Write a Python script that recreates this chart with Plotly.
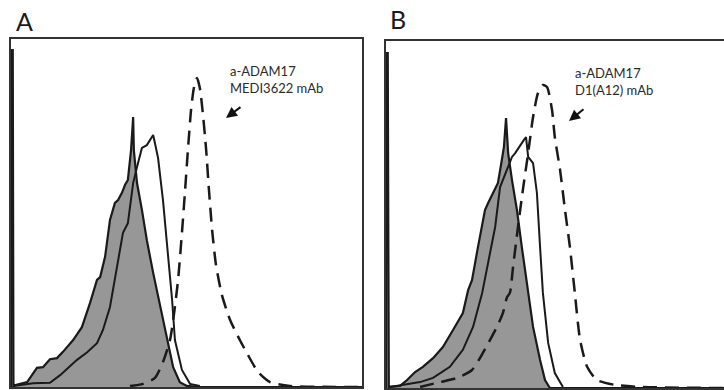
import plotly.graph_objects as go

# ---------------- Panel A data (channel, relative count) ----------------
a_fill_x = [0, 1, 5, 7, 46, 74, 91, 111, 131, 148, 177, 202, 225, 245, 254, 268, 282, 296, 305,
            316, 325, 333, 342, 348, 350, 359, 373, 387, 405, 425, 444, 462, 481, 501, 538, 1000]
a_fill_y = [0, 96.8, 96.8, 0.4, 1.4, 5.5, 5.7, 8.0, 8.3, 10.1, 13.5, 17.2, 24.1, 30.8, 31.6, 37.4,
            48.0, 52.9, 53.7, 55.8, 58.1, 59.5, 68.1, 77.6, 68.1, 58.6, 50.9, 42.2, 32.8, 23.0,
            13.5, 5.7, 1.4, 0.3, 0, 0]

a_solid_x = [6, 63, 111, 140, 188, 217, 245, 262, 282, 302, 319, 333, 348, 359, 373, 387, 396,
             405, 410, 419, 433, 447, 459, 467, 487, 510, 538]
a_solid_y = [0.3, 1.1, 1.2, 3.4, 7.8, 10.0, 12.6, 16.4, 23.0, 34.5, 44.3, 47.1, 58.6, 63.2, 68.7,
             69.5, 71.0, 72.4, 70.1, 65.8, 53.7, 39.4, 25.0, 13.5, 4.9, 0.9, 0.3]

a_dash_x = [339, 376, 410, 433, 453, 464, 476, 487, 496, 504, 513, 521, 530, 538, 547, 556, 564,
            573, 584, 601, 624, 652, 675, 704, 738, 795, 1000]
a_dash_y = [0.3, 0.9, 2.6, 7.2, 13.5, 20.7, 30.8, 44.3, 56.6, 68.1, 79.6, 85.9, 88.8, 85.9, 78.2,
            68.1, 56.6, 45.1, 35.1, 26.4, 19.3, 13.5, 9.2, 4.3, 1.4, 0.3, 0]

# ---------------- Panel B data ----------------
b_fill_x = [0, 1, 5, 8, 40, 60, 83, 105, 134, 162, 191, 219, 234, 245, 262, 282, 291, 305, 319,
            330, 336, 342, 348, 359, 373, 387, 402, 419, 439, 453, 467, 963]
b_fill_y = [0, 96.5, 96.5, 0.3, 0.6, 2.3, 4.6, 6.1, 8.6, 11.8, 16.7, 21.6, 28.2, 31.1, 40.6, 51.3,
            53.3, 56.2, 59.1, 65.7, 69.5, 77.8, 67.7, 59.9, 51.3, 40.6, 29.1, 17.6, 8.1, 2.3, 0, 0]

b_solid_x = [11, 97, 134, 182, 219, 248, 274, 296, 311, 325, 345, 359, 368, 382, 393, 399, 405,
             419, 430, 439, 447, 462, 481, 504]
b_solid_y = [0.3, 1.7, 2.9, 6.1, 11.0, 17.6, 27.4, 38.9, 46.4, 57.9, 62.8, 66.6, 67.7, 70.0, 71.5,
             72.3, 66.6, 64.8, 56.2, 40.6, 27.4, 13.0, 4.3, 0.3]

b_dash_x = [97, 154, 202, 245, 276, 316, 333, 345, 353, 362, 376, 390, 405, 419, 433, 447, 459,
            473, 481, 496, 510, 524, 538, 553, 573, 601, 652, 724, 963]
b_dash_y = [0.3, 1.7, 2.9, 5.2, 10.1, 17.6, 21.6, 26.2, 27.4, 34.9, 46.4, 57.1, 67.7, 78.1, 85.0,
            87.3, 86.7, 80.1, 72.3, 62.8, 51.3, 40.6, 27.4, 13.8, 6.1, 2.3, 0.9, 0.3, 0]

panel_labels = ["A", "B"]
annot_a = "a-ADAM17<br>MEDI3622 mAb"
annot_b = "a-ADAM17<br>D1(A12) mAb"

W, H = 724, 390
DARK = "#1a1a1a"
GRAY = "#979797"

fig = go.Figure()


def add_panel(fx, fy, sx, sy, dx, dy, xa, ya):
    fig.add_trace(go.Scatter(x=fx, y=fy, mode="lines", fill="tozeroy", fillcolor=GRAY,
                             line=dict(color=DARK, width=2.2), xaxis=xa, yaxis=ya,
                             showlegend=False, hoverinfo="skip"))
    fig.add_trace(go.Scatter(x=sx, y=sy, mode="lines",
                             line=dict(color=DARK, width=2), xaxis=xa, yaxis=ya,
                             showlegend=False, hoverinfo="skip"))
    fig.add_trace(go.Scatter(x=dx, y=dy, mode="lines",
                             line=dict(color=DARK, width=2.5, dash="14px,8px", shape="spline",
                                       smoothing=0.6),
                             xaxis=xa, yaxis=ya, showlegend=False, hoverinfo="skip"))


add_panel(a_fill_x, a_fill_y, a_solid_x, a_solid_y, a_dash_x, a_dash_y, "x", "y")
add_panel(b_fill_x, b_fill_y, b_solid_x, b_solid_y, b_dash_x, b_dash_y, "x2", "y2")

ax_common = dict(showgrid=False, zeroline=False, showticklabels=False, ticks="",
                 showline=True, linecolor="#333333", linewidth=1.5)

fig.update_layout(
    width=W, height=H,
    margin=dict(l=0, r=0, t=0, b=0),
    paper_bgcolor="white", plot_bgcolor="white",
    xaxis=dict(domain=[11 / W, 362 / W], range=[0, 1000], mirror=True, anchor="y", **ax_common),
    yaxis=dict(domain=[(H - 387) / H, (H - 39) / H], range=[0, 100], mirror=True, anchor="x",
               **ax_common),
    xaxis2=dict(domain=[386 / W, 1.0], range=[0, 963], mirror=True, anchor="y2", **ax_common),
    yaxis2=dict(domain=[(H - 388) / H, (H - 41) / H], range=[0, 100], mirror=False, anchor="x2",
                **ax_common),
)

font_txt = dict(family="Lato, 'Open Sans', sans-serif", size=13, color="#2a2a2a")
font_lbl = dict(family="Lato, 'Open Sans', sans-serif", size=25, color="#1a1a1a")

annotations = [
    dict(text=panel_labels[0], x=14 / W, y=1 - 21 / H, xref="paper", yref="paper",
         xanchor="left", yanchor="middle", showarrow=False, font=font_lbl),
    dict(text=panel_labels[1], x=388 / W, y=1 - 19 / H, xref="paper", yref="paper",
         xanchor="left", yanchor="middle", showarrow=False, font=font_lbl),
    dict(text=annot_a, x=228 / W, y=1 - 80 / H, xref="paper", yref="paper",
         xanchor="left", yanchor="middle", align="left", showarrow=False, font=font_txt),
    dict(text=annot_b, x=573 / W, y=1 - 81 / H, xref="paper", yref="paper",
         xanchor="left", yanchor="middle", align="left", showarrow=False, font=font_txt),
    dict(text="", x=226 / W, y=1 - 118 / H, xref="paper", yref="paper",
         showarrow=True, ax=16, ay=-12, arrowhead=2, arrowsize=1.1, arrowwidth=2,
         arrowcolor="#111111", standoff=0),
    dict(text="", x=569 / W, y=1 - 121 / H, xref="paper", yref="paper",
         showarrow=True, ax=16, ay=-13, arrowhead=2, arrowsize=1.1, arrowwidth=2,
         arrowcolor="#111111", standoff=0),
]
fig.update_layout(annotations=annotations)

fig.write_html("out.html")
